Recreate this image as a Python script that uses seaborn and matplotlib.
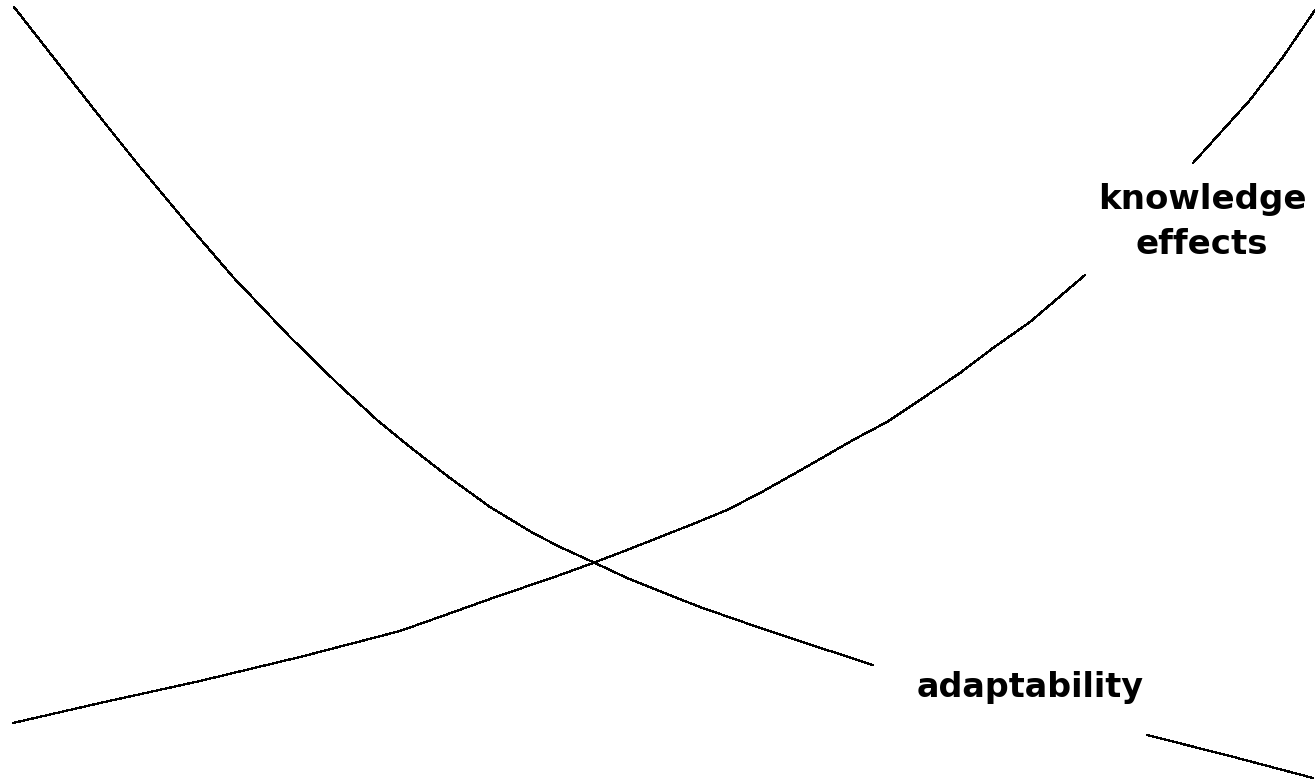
import matplotlib
matplotlib.use("Agg")
import matplotlib.pyplot as plt
import seaborn as sns
import pandas as pd

# Curve "adaptability" (declining) - two visible segments around the label
adapt_x_1 = [14, 100, 140, 190, 233, 253, 290, 337, 377, 410, 450, 490, 533,
             560, 595, 627, 677, 700, 743, 787, 873]
adapt_y_1 = [777, 667, 617, 557, 507, 486, 447, 401, 364, 337, 306, 277, 251,
             237, 221, 206, 186, 177, 162, 147, 119]
adapt_x_2 = [1147, 1230, 1313]
adapt_y_2 = [49, 28, 6]

# Curve "knowledge effects" (rising) - two visible segments around the label
know_x_1 = [13, 100, 200, 300, 400, 448, 490, 560, 593, 627, 660, 693, 727, 760,
            808, 853, 887, 920, 960, 993, 1030, 1085]
know_y_1 = [61, 81, 103, 127, 153, 170, 185, 209, 221, 234, 247, 260, 274, 291,
            318, 344, 362, 384, 411, 436, 462, 509]
know_x_2 = [1193, 1250, 1283, 1313, 1318]
know_y_2 = [621, 684, 727, 771, 778]

labels = ["adaptability", "knowledge\neffects"]

frames = []
for name, seg, xs, ys in [
    ("adaptability", "a1", adapt_x_1, adapt_y_1),
    ("adaptability", "a2", adapt_x_2, adapt_y_2),
    ("knowledge", "k1", know_x_1, know_y_1),
    ("knowledge", "k2", know_x_2, know_y_2),
]:
    frames.append(pd.DataFrame({"x": xs, "y": ys, "curve": name, "seg": seg}))
df = pd.concat(frames, ignore_index=True)

sns.set_theme(style="white")
plt.rcParams['font.family'] = ['DejaVu Sans']

fig = plt.figure(figsize=(13.15, 7.84), dpi=100)
ax = fig.add_axes([0, 0, 1, 1])
sns.lineplot(data=df, x="x", y="y", hue="curve", units="seg", estimator=None,
             palette={"adaptability": "black", "knowledge": "black"},
             linewidth=0.9, legend=False, ax=ax, sort=False, antialiased=False)

ax.set_xlim(0, 1315)
ax.set_ylim(0, 784)
ax.axis("off")

ax.text(1030, 97, labels[0], ha="center", va="center", fontsize=24,
        fontweight="bold", color="black")
ax.text(1202, 562, labels[1], ha="center", va="center", fontsize=24.5,
        fontweight="bold", color="black", linespacing=1.45)

fig.savefig("out.png", dpi=100, facecolor="white")
